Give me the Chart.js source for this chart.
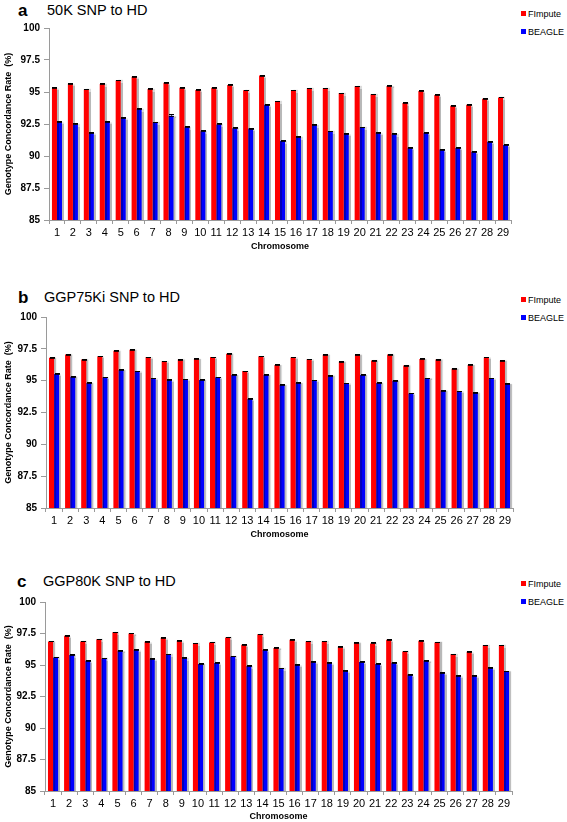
<!DOCTYPE html>
<html>
<head>
<meta charset="utf-8">
<script src="https://cdn.jsdelivr.net/npm/chart.js@4.4.1/dist/chart.umd.min.js"></script>
<style>
  body { margin: 0; background: #fff; }
  #page { position: relative; width: 567px; height: 822px; font-family: 'Liberation Sans', Arial, sans-serif; color: #000; }
  canvas { position: absolute; left: 0; }
  .letter { position: absolute; font-size: 17px; font-weight: bold; line-height: 1; }
  .title { position: absolute; font-size: 14.5px; line-height: 1; }
  .leg { position: absolute; left: 521px; font-size: 9px; line-height: 1; white-space: nowrap; }
  .leg span { display: inline-block; width: 5px; height: 5px; margin-right: 2px; vertical-align: 1px; }
</style>
</head>
<body>
<div id="page">
  <div class="letter" style="left:18px;top:2px">a</div>
  <div class="title" style="left:47px;top:3px">50K SNP to HD</div>
  <div class="leg" style="top:10px"><span style="background:#ff0000"></span>FImpute</div>
  <div class="leg" style="top:28px"><span style="background:#0000ff"></span>BEAGLE</div>
  <canvas id="chartA" width="567" height="256" style="top:0px"></canvas>

  <div class="letter" style="left:18px;top:289px">b</div>
  <div class="title" style="left:44px;top:290px">GGP75Ki SNP to HD</div>
  <div class="leg" style="top:296px"><span style="background:#ff0000"></span>FImpute</div>
  <div class="leg" style="top:314px"><span style="background:#0000ff"></span>BEAGLE</div>
  <canvas id="chartB" width="567" height="254" style="top:290px"></canvas>

  <div class="letter" style="left:17px;top:573px">c</div>
  <div class="title" style="left:43px;top:574px">GGP80K SNP to HD</div>
  <div class="leg" style="top:580px"><span style="background:#ff0000"></span>FImpute</div>
  <div class="leg" style="top:598px"><span style="background:#0000ff"></span>BEAGLE</div>
  <canvas id="chartC" width="567" height="247" style="top:575px"></canvas>
</div>
<script>
// datos
const chromosomes = ['1','2','3','4','5','6','7','8','9','10','11','12','13','14','15',
  '16','17','18','19','20','21','22','23','24','25','26','27','28','29'];
const yTicks = [85, 87.5, 90, 92.5, 95, 97.5, 100];

// a: 50K SNP to HD
const fimputeA = [95.34, 95.65, 95.2, 95.62, 95.9, 96.2, 95.23, 95.73, 95.34, 95.16, 95.34, 95.55, 95.13, 96.28, 94.27,
  95.13, 95.29, 95.29, 94.92, 95.44, 94.82, 95.47, 94.14, 95.08, 94.77, 93.93, 94.0, 94.48, 94.58];
const beagleA = [92.68, 92.47, 91.82, 92.68, 93.0, 93.67, 92.63, 93.15, 92.24, 91.93, 92.47, 92.16, 92.14, 94.01, 91.17,
  91.48, 92.42, 91.93, 91.74, 92.24, 91.82, 91.69, 90.65, 91.8, 90.5, 90.63, 90.34, 91.12, 90.86];
const errFimputeA = [0.05, 0.05, 0.04, 0.05, 0.05, 0.05, 0.05, 0.05, 0.05, 0.05, 0.05, 0.04, 0.04, 0.06, 0.04,
  0.05, 0.04, 0.04, 0.04, 0.04, 0.05, 0.04, 0.05, 0.05, 0.05, 0.05, 0.05, 0.06, 0.05];
const errBeagleA = [0.08, 0.08, 0.08, 0.07, 0.06, 0.08, 0.06, 0.1, 0.07, 0.08, 0.08, 0.08, 0.08, 0.07, 0.06,
  0.09, 0.06, 0.06, 0.07, 0.06, 0.08, 0.08, 0.06, 0.05, 0.08, 0.07, 0.07, 0.08, 0.08];

// b: GGP75Ki SNP to HD
const fimputeB = [96.79, 97.05, 96.66, 96.92, 97.34, 97.42, 96.85, 96.53, 96.66, 96.71, 96.85, 97.11, 95.75, 96.92, 96.24,
  96.82, 96.69, 97.03, 96.48, 97.03, 96.58, 97.05, 96.19, 96.71, 96.66, 95.93, 96.24, 96.82, 96.56];
const beagleB = [95.52, 95.31, 94.82, 95.26, 95.84, 95.73, 95.18, 95.05, 95.1, 95.05, 95.26, 95.45, 93.56, 95.45, 94.66,
  94.82, 95.05, 95.39, 94.79, 95.45, 94.82, 95.0, 94.0, 95.18, 94.21, 94.16, 94.06, 95.18, 94.74];
const errFimputeB = [0.04, 0.04, 0.04, 0.04, 0.04, 0.05, 0.04, 0.04, 0.04, 0.04, 0.04, 0.04, 0.04, 0.04, 0.04,
  0.05, 0.04, 0.04, 0.04, 0.04, 0.04, 0.06, 0.04, 0.05, 0.04, 0.04, 0.04, 0.04, 0.04];
const errBeagleB = [0.06, 0.06, 0.06, 0.06, 0.07, 0.06, 0.05, 0.05, 0.04, 0.05, 0.06, 0.05, 0.04, 0.06, 0.04,
  0.06, 0.04, 0.05, 0.04, 0.05, 0.06, 0.06, 0.04, 0.05, 0.06, 0.04, 0.06, 0.04, 0.05];

// c: GGP80K SNP to HD
const fimputeC = [96.87, 97.32, 96.87, 97.05, 97.6, 97.5, 96.85, 97.16, 96.92, 96.73, 96.79, 97.19, 96.61, 97.45, 96.35,
  97.0, 96.87, 96.87, 96.45, 96.76, 96.71, 97.0, 96.08, 96.92, 96.79, 95.87, 96.06, 96.56, 96.56];
const beagleC = [95.6, 95.79, 95.34, 95.52, 96.13, 96.2, 95.5, 95.86, 95.55, 95.08, 95.16, 95.68, 94.92, 96.2, 94.74,
  95.03, 95.24, 95.16, 94.53, 95.24, 95.08, 95.18, 94.24, 95.34, 94.4, 94.16, 94.14, 94.79, 94.5];
const errFimputeC = [0.04, 0.04, 0.05, 0.04, 0.05, 0.04, 0.04, 0.05, 0.04, 0.04, 0.04, 0.04, 0.04, 0.04, 0.04,
  0.05, 0.04, 0.04, 0.04, 0.05, 0.09, 0.08, 0.04, 0.04, 0.04, 0.04, 0.04, 0.05, 0.04];
const errBeagleC = [0.07, 0.06, 0.07, 0.05, 0.05, 0.05, 0.05, 0.04, 0.06, 0.06, 0.06, 0.07, 0.05, 0.07, 0.04,
  0.06, 0.08, 0.06, 0.06, 0.06, 0.07, 0.05, 0.04, 0.07, 0.06, 0.06, 0.05, 0.06, 0.06];

// sombra gris a la derecha de las barras
const barShadow = {
  id: 'barShadow',
  beforeDatasetsDraw(chart) {
    const ctx = chart.ctx;
    ctx.save();
    ctx.shadowColor = 'rgba(0,0,0,0.28)';
    ctx.shadowOffsetX = 2;
    ctx.shadowOffsetY = 0;
    ctx.shadowBlur = 1;
  },
  afterDatasetsDraw(chart) {
    chart.ctx.restore();
  }
};

// barras de error (solo la parte superior visible)
const errorBars = {
  id: 'errorBars',
  afterDatasetsDraw(chart) {
    const ctx = chart.ctx;
    const y = chart.scales.y;
    ctx.save();
    ctx.strokeStyle = '#000';
    ctx.lineWidth = 1;
    chart.data.datasets.forEach((ds, i) => {
      const meta = chart.getDatasetMeta(i);
      meta.data.forEach((bar, j) => {
        const v = ds.data[j];
        const e = ds.errors[j];
        const x = Math.round(bar.x) + 0.5;
        const yTop = Math.round(y.getPixelForValue(v + e)) + 0.5;
        const yBase = y.getPixelForValue(v);
        ctx.beginPath();
        ctx.moveTo(x, yBase);
        ctx.lineTo(x, yTop);
        ctx.moveTo(x - 2.5, yTop);
        ctx.lineTo(x + 2.5, yTop);
        ctx.stroke();
        ctx.fillStyle = 'rgba(0,0,0,0.85)';
        ctx.fillRect(Math.round(bar.x) - 2, Math.round(yBase), 5, 1);
      });
    });
    ctx.restore();
  }
};

function makePanel(id, fimpute, beagle, errF, errB, geo) {
  return new Chart(document.getElementById(id), {
    type: 'bar',
    data: {
      labels: chromosomes,
      datasets: [
        { label: 'FImpute', data: fimpute, errors: errF, backgroundColor: '#ff0000' },
        { label: 'BEAGLE', data: beagle, errors: errB, backgroundColor: '#0000ff' }
      ]
    },
    options: {
      responsive: false,
      devicePixelRatio: 1,
      animation: false,
      layout: { padding: { top: geo.top, right: geo.right, left: 0, bottom: 0 } },
      datasets: { bar: { categoryPercentage: 0.63, barPercentage: 1.0 } },
      plugins: { legend: { display: false }, tooltip: { enabled: false } },
      scales: {
        x: {
          afterFit: (s) => { s.height = geo.xh; },
          grid: { drawOnChartArea: false, tickLength: 4, color: '#9a9a9a', offset: true },
          border: { color: '#9a9a9a' },
          ticks: { font: { family: 'Liberation Sans', size: 11 }, color: '#000', padding: 2, maxRotation: 0, autoSkip: false },
          title: { display: true, text: 'Chromosome', font: { family: 'Liberation Sans', size: 9, weight: 'bold' },
                   color: '#000', padding: { top: 2, bottom: geo.titleBottom } }
        },
        y: {
          min: 85, max: 100,
          afterFit: (s) => { s.width = geo.left; },
          afterBuildTicks: (s) => { s.ticks = yTicks.map(v => ({ value: v })); },
          grid: { drawOnChartArea: false, tickLength: 5, color: '#9a9a9a' },
          border: { color: '#9a9a9a' },
          ticks: { font: { family: 'Liberation Sans', size: 10, weight: 'bold' }, color: '#000', padding: 4 },
          title: { display: true, text: 'Genotype Concordance Rate  (%)',
                   font: { family: 'Liberation Sans', size: 9, weight: 'bold' }, color: '#000', padding: { top: 3, bottom: 0 } }
        }
      }
    },
    plugins: [barShadow, errorBars]
  });
}

makePanel('chartA', fimputeA, beagleA, errFimputeA, errBeagleA, { top: 28, right: 56, left: 49, xh: 36, titleBottom: 4 });
makePanel('chartB', fimputeB, beagleB, errFimputeB, errBeagleB, { top: 27, right: 54, left: 46, xh: 36, titleBottom: 4 });
makePanel('chartC', fimputeC, beagleC, errFimputeC, errBeagleC, { top: 27, right: 55, left: 45, xh: 31, titleBottom: 0 });
</script>
</body>
</html>
